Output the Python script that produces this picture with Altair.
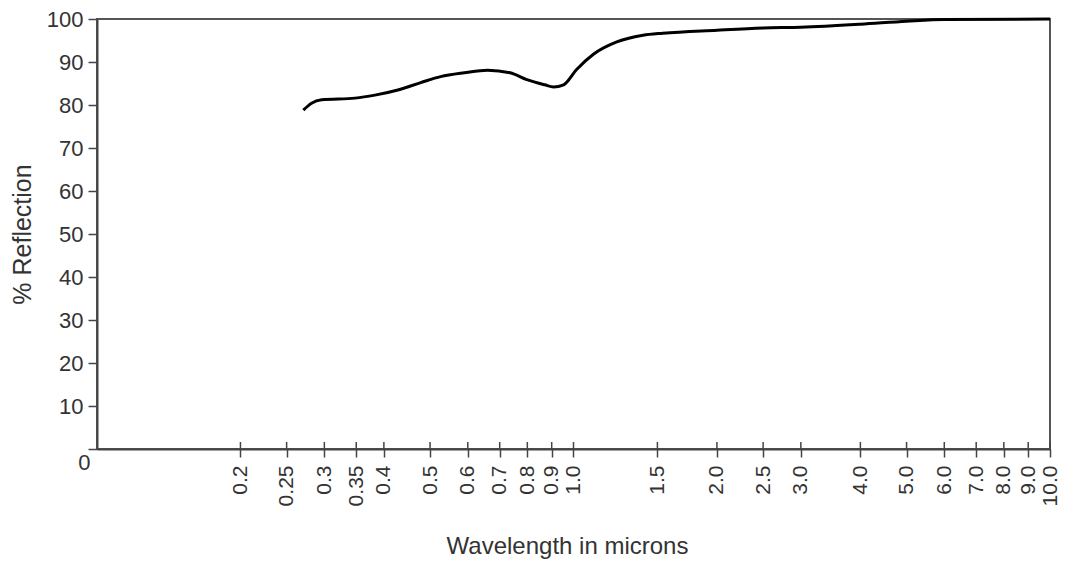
import altair as alt
import pandas as pd

# Curve
wavelength = [0.271, 0.282, 0.296, 0.348, 0.383, 0.428, 0.478, 0.526, 0.590, 0.66,
              0.736, 0.798, 0.87, 0.908, 0.953, 1.014, 1.101, 1.229, 1.399, 1.54,
              2.0, 2.5, 3.0, 4.0, 5.0, 6.0, 10.0]
reflection = [78.8, 80.4, 81.2, 81.6, 82.3, 83.5, 85.2, 86.6, 87.5, 88.1,
              87.5, 85.9, 84.7, 84.2, 84.7, 88.2, 91.8, 94.6, 96.2, 96.7,
              97.4, 97.9, 98.1, 98.8, 99.5, 99.9, 100.0]

x_ticks = [0.2, 0.25, 0.3, 0.35, 0.4, 0.5, 0.6, 0.7, 0.8, 0.9, 1.0, 1.5,
           2.0, 2.5, 3.0, 4.0, 5.0, 6.0, 7.0, 8.0, 9.0, 10.0]
y_ticks = [0, 10, 20, 30, 40, 50, 60, 70, 80, 90, 100]

df = pd.DataFrame({"w": wavelength, "r": reflection})
ticks_df = pd.DataFrame({"t": x_ticks})

FONT = "Liberation Sans"
TXT = "#333333"
AX = "#444444"

xscale = alt.Scale(type="log", domain=[0.1, 10])
yscale = alt.Scale(domain=[0, 100], nice=False)

line = alt.Chart(df).mark_line(color="black", strokeWidth=3, interpolate="monotone").encode(
    x=alt.X("w:Q", scale=xscale, axis=alt.Axis(
        values=x_ticks,
        labelExpr="datum.value >= 1 ? format(datum.value, '.1f') : format(datum.value, '')",
        labelAngle=270, labelAlign="right", labelBaseline="middle",
        labelOverlap=False, labelFontSize=21, labelFont=FONT, labelColor=TXT,
        labelPadding=8, tickSize=8, tickColor=AX, tickWidth=1.5,
        domainColor=AX, domainWidth=2, grid=False,
        title="Wavelength in microns", titleFontSize=24, titleFont=FONT,
        titleFontWeight="normal", titleColor=TXT,
        titleX=470, titleY=104, titleAlign="center", titleBaseline="alphabetic",
    )),
    y=alt.Y("r:Q", scale=yscale, axis=alt.Axis(
        values=y_ticks, grid=False,
        labelFontSize=22, labelFont=FONT, labelColor=TXT,
        labelPadding={"condition": {"test": "datum.value === 0", "value": -2}, "value": 5},
        labelOffset={"condition": {"test": "datum.value === 0", "value": 13}, "value": 0},
        tickSize=9, tickColor=AX, tickWidth=1.5,
        domainColor=AX, domainWidth=2,
        title="% Reflection", titleFontSize=25, titleFont=FONT,
        titleFontWeight="normal", titleColor=TXT,
        titleAngle=270, titleX=-75, titleY=215, titleAlign="center", titleBaseline="middle",
    )),
)

upper_ticks = alt.Chart(ticks_df).mark_rule(color=AX, strokeWidth=1.5).encode(
    x=alt.X("t:Q", scale=xscale),
    y=alt.value(423),
    y2=alt.value(430),
)

chart = alt.layer(line, upper_ticks).properties(
    width=953, height=430,
    autosize=alt.AutoSizeParams(type="none"),
    padding={"left": 89, "top": 11, "right": 12, "bottom": 110},
    background="white",
).configure_view(stroke="#555555", strokeWidth=2)

chart.save("out.html", embed_options={"renderer": "svg", "actions": False})
